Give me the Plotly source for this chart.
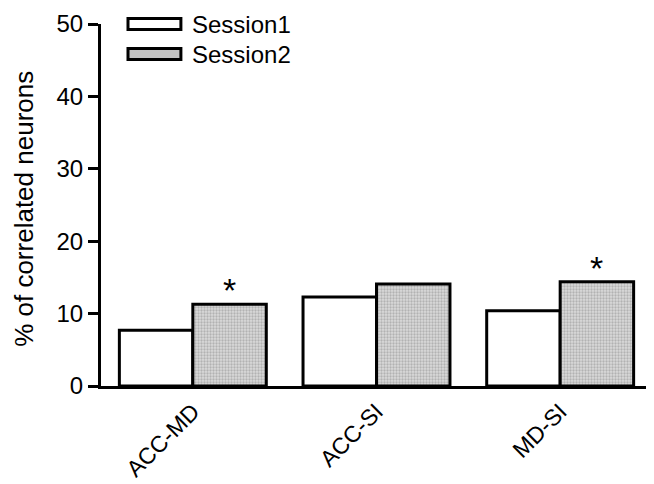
import plotly.graph_objects as go

# data
pairs = ["ACC-MD", "ACC-SI", "MD-SI"]
sessions = ["Session1", "Session2"]
session1 = [7.7, 12.3, 10.4]
session2 = [11.3, 14.1, 14.4]
significant = [True, False, True]   # asterisk over session2 bar

FONT = "Arial, Liberation Sans, sans-serif"
GRAY = "#c2c2c2"

fig = go.Figure()

fig.add_trace(go.Bar(
    x=pairs, y=session1, name=sessions[0],
    marker=dict(color="white", line=dict(color="black", width=3)),
))
fig.add_trace(go.Bar(
    x=pairs, y=session2, name=sessions[1],
    marker=dict(
        color=GRAY,
        line=dict(color="black", width=3),
        pattern=dict(shape=".", fgcolor="#8a8a8a", bgcolor="#dadada",
                     size=3, solidity=0.45),
    ),
))

# asterisks over significant session2 bars
for i, (v, sig) in enumerate(zip(session2, significant)):
    if sig:
        fig.add_annotation(
            x=i + 0.2, y=v, text="*", showarrow=False,
            yanchor="bottom", yshift=-7,
            font=dict(size=34, color="black", family=FONT),
        )

# legend drawn by hand so the keys are wide boxes like the original
swatch_fill = ["white", GRAY]
for k, name in enumerate(sessions):
    mid = 1.0 - k * 0.083
    fig.add_shape(
        type="rect", xref="paper", yref="paper",
        x0=0.049, x1=0.145, y0=mid - 0.015, y1=mid + 0.015,
        fillcolor=swatch_fill[k], line=dict(color="black", width=3),
    )
    fig.add_annotation(
        xref="paper", yref="paper", x=0.162, y=mid,
        xanchor="left", yanchor="middle", text=name, showarrow=False,
        font=dict(size=24, color="black", family=FONT),
    )

# y axis title as an annotation so it can sit where the original has it
fig.add_annotation(
    xref="paper", yref="paper", x=-0.14, y=0.489,
    xanchor="center", yanchor="middle", textangle=-90,
    text="% of correlated neurons", showarrow=False,
    font=dict(size=26, color="black", family=FONT),
)

# page body has an 8px margin, so the figure is 8px smaller than the window
fig.update_layout(
    width=646, height=476,
    margin=dict(l=93, r=2, t=16, b=98, autoexpand=False),
    paper_bgcolor="white", plot_bgcolor="white",
    barmode="group", bargap=0.2, bargroupgap=0,
    font=dict(family=FONT, color="black", size=24),
    showlegend=False,
    xaxis=dict(
        range=[-0.5, 2.5], tickangle=-45, automargin=False,
        showline=True, linecolor="black", linewidth=3,
        ticks="", tickfont=dict(size=23), showgrid=False,
    ),
    yaxis=dict(
        range=[0, 50], dtick=10, automargin=False,
        showline=True, linecolor="black", linewidth=3,
        ticks="outside", ticklen=10, tickwidth=3, tickcolor="black",
        showgrid=False, zeroline=False, tickfont=dict(size=24),
        ticklabeloverflow="allow",
    ),
)

fig.write_html("out.html")
